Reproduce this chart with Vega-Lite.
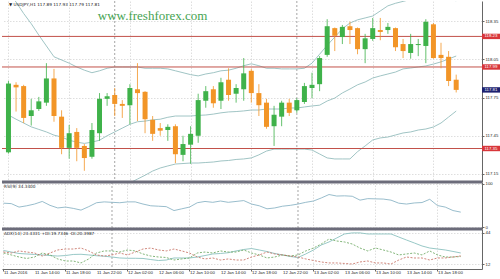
{
  "$schema": "https://vega.github.io/schema/vega-lite/v6.json",
  "padding": 0,
  "background": "white",
  "spacing": 0,
  "bounds": "flush",
  "config": {
    "view": {"stroke": null},
    "font": "Liberation Sans",
    "axis": {"labelFont": "Liberation Sans", "labelFontSize": 4.3, "labelColor": "#222222", "domainColor": "#666666", "tickColor": "#666666", "gridColor": "#d6d6d6", "gridDash": [1.5, 1.5], "gridWidth": 0.8}
  },
  "datasets": {
    "bars": [
      {"t": "2016-01-11T10:00:00Z", "o": 117.32, "h": 117.88, "l": 117.31, "c": 117.86, "ub": 118.57, "mb": 117.613, "lb": 116.66, "rsi": 55, "adx": 26.0, "pdi": 23.4, "mdi": 24.4},
      {"t": "2016-01-11T11:00:00Z", "o": 117.85, "h": 117.87, "l": 117.64, "c": 117.83, "ub": 118.50, "mb": 117.58, "lb": 116.66, "rsi": 54, "adx": 24.4, "pdi": 21.4, "mdi": 23.4},
      {"t": "2016-01-11T12:00:00Z", "o": 117.84, "h": 117.85, "l": 117.55, "c": 117.59, "ub": 118.41, "mb": 117.55, "lb": 116.69, "rsi": 46, "adx": 22.9, "pdi": 19.3, "mdi": 25.5},
      {"t": "2016-01-11T13:00:00Z", "o": 117.605, "h": 117.74, "l": 117.53, "c": 117.65, "ub": 118.33, "mb": 117.52, "lb": 116.71, "rsi": 49, "adx": 22.4, "pdi": 17.8, "mdi": 24.4},
      {"t": "2016-01-11T14:00:00Z", "o": 117.66, "h": 117.755, "l": 117.645, "c": 117.72, "ub": 118.24, "mb": 117.50, "lb": 116.76, "rsi": 53, "adx": 21.9, "pdi": 19.3, "mdi": 23.4},
      {"t": "2016-01-11T15:00:00Z", "o": 117.71, "h": 118.02, "l": 117.685, "c": 117.90, "ub": 118.155, "mb": 117.48, "lb": 116.805, "rsi": 59, "adx": 21.4, "pdi": 23.4, "mdi": 20.3},
      {"t": "2016-01-11T16:00:00Z", "o": 117.90, "h": 117.975, "l": 117.56, "c": 117.605, "ub": 118.07, "mb": 117.455, "lb": 116.84, "rsi": 50, "adx": 20.8, "pdi": 21.4, "mdi": 23.4},
      {"t": "2016-01-11T17:00:00Z", "o": 117.60, "h": 117.65, "l": 117.305, "c": 117.355, "ub": 118.045, "mb": 117.44, "lb": 116.835, "rsi": 44, "adx": 20.3, "pdi": 17.3, "mdi": 26.5},
      {"t": "2016-01-11T18:00:00Z", "o": 117.355, "h": 117.535, "l": 117.27, "c": 117.47, "ub": 118.02, "mb": 117.415, "lb": 116.81, "rsi": 46, "adx": 20.8, "pdi": 15.2, "mdi": 27.5},
      {"t": "2016-01-11T19:00:00Z", "o": 117.48, "h": 117.51, "l": 117.25, "c": 117.355, "ub": 117.99, "mb": 117.40, "lb": 116.81, "rsi": 43, "adx": 21.9, "pdi": 15.2, "mdi": 27.5},
      {"t": "2016-01-11T20:00:00Z", "o": 117.37, "h": 117.385, "l": 117.175, "c": 117.275, "ub": 117.965, "mb": 117.39, "lb": 116.815, "rsi": 39, "adx": 22.1, "pdi": 13.2, "mdi": 28.5},
      {"t": "2016-01-11T21:00:00Z", "o": 117.285, "h": 117.55, "l": 117.27, "c": 117.495, "ub": 117.945, "mb": 117.40, "lb": 116.855, "rsi": 47, "adx": 21.4, "pdi": 17.3, "mdi": 25.5},
      {"t": "2016-01-11T22:00:00Z", "o": 117.47, "h": 117.785, "l": 117.41, "c": 117.74, "ub": 117.96, "mb": 117.415, "lb": 116.87, "rsi": 56, "adx": 20.6, "pdi": 23.4, "mdi": 21.4},
      {"t": "2016-01-11T23:00:00Z", "o": 117.74, "h": 117.785, "l": 117.685, "c": 117.76, "ub": 117.98, "mb": 117.45, "lb": 116.92, "rsi": 58, "adx": 20.1, "pdi": 25.5, "mdi": 20.3},
      {"t": "2016-01-12T00:00:00Z", "o": 117.77, "h": 117.825, "l": 117.605, "c": 117.70, "ub": 117.99, "mb": 117.48, "lb": 116.97, "rsi": 57, "adx": 19.3, "pdi": 25.5, "mdi": 21.4},
      {"t": "2016-01-12T01:00:00Z", "o": 117.70, "h": 117.73, "l": 117.59, "c": 117.685, "ub": 117.99, "mb": 117.51, "lb": 117.03, "rsi": 56, "adx": 18.3, "pdi": 24.4, "mdi": 23.4},
      {"t": "2016-01-12T02:00:00Z", "o": 117.69, "h": 117.855, "l": 117.54, "c": 117.825, "ub": 117.99, "mb": 117.54, "lb": 117.08, "rsi": 58, "adx": 18.0, "pdi": 26.5, "mdi": 21.4},
      {"t": "2016-01-12T03:00:00Z", "o": 117.815, "h": 118.02, "l": 117.565, "c": 117.785, "ub": 117.99, "mb": 117.56, "lb": 117.11, "rsi": 58, "adx": 18.0, "pdi": 25.5, "mdi": 24.4},
      {"t": "2016-01-12T04:00:00Z", "o": 117.795, "h": 117.80, "l": 117.47, "c": 117.58, "ub": 117.98, "mb": 117.565, "lb": 117.14, "rsi": 53, "adx": 17.8, "pdi": 22.4, "mdi": 27.5},
      {"t": "2016-01-12T05:00:00Z", "o": 117.575, "h": 117.605, "l": 117.41, "c": 117.465, "ub": 117.98, "mb": 117.575, "lb": 117.173, "rsi": 49, "adx": 16.7, "pdi": 20.3, "mdi": 28.5},
      {"t": "2016-01-12T06:00:00Z", "o": 117.51, "h": 117.55, "l": 117.45, "c": 117.49, "ub": 117.98, "mb": 117.58, "lb": 117.197, "rsi": 48, "adx": 15.7, "pdi": 19.3, "mdi": 26.5},
      {"t": "2016-01-12T07:00:00Z", "o": 117.495, "h": 117.54, "l": 117.41, "c": 117.52, "ub": 117.975, "mb": 117.595, "lb": 117.213, "rsi": 47, "adx": 16.2, "pdi": 18.8, "mdi": 25.5},
      {"t": "2016-01-12T08:00:00Z", "o": 117.525, "h": 117.54, "l": 117.235, "c": 117.305, "ub": 117.96, "mb": 117.605, "lb": 117.228, "rsi": 38, "adx": 18.3, "pdi": 16.2, "mdi": 27.5},
      {"t": "2016-01-12T09:00:00Z", "o": 117.30, "h": 117.45, "l": 117.25, "c": 117.385, "ub": 117.945, "mb": 117.605, "lb": 117.232, "rsi": 42, "adx": 18.3, "pdi": 17.3, "mdi": 25.5},
      {"t": "2016-01-12T10:00:00Z", "o": 117.38, "h": 117.525, "l": 117.23, "c": 117.465, "ub": 117.93, "mb": 117.605, "lb": 117.236, "rsi": 46, "adx": 18.3, "pdi": 18.3, "mdi": 23.4},
      {"t": "2016-01-12T11:00:00Z", "o": 117.45, "h": 117.78, "l": 117.395, "c": 117.73, "ub": 117.92, "mb": 117.61, "lb": 117.236, "rsi": 56, "adx": 19.3, "pdi": 23.4, "mdi": 19.3},
      {"t": "2016-01-12T12:00:00Z", "o": 117.725, "h": 117.84, "l": 117.67, "c": 117.80, "ub": 117.935, "mb": 117.613, "lb": 117.24, "rsi": 59, "adx": 20.8, "pdi": 24.4, "mdi": 17.3},
      {"t": "2016-01-12T13:00:00Z", "o": 117.815, "h": 117.84, "l": 117.67, "c": 117.705, "ub": 117.945, "mb": 117.62, "lb": 117.244, "rsi": 57, "adx": 22.4, "pdi": 23.4, "mdi": 18.3},
      {"t": "2016-01-12T14:00:00Z", "o": 117.725, "h": 117.905, "l": 117.66, "c": 117.87, "ub": 117.96, "mb": 117.63, "lb": 117.252, "rsi": 60, "adx": 22.9, "pdi": 25.5, "mdi": 16.2},
      {"t": "2016-01-12T15:00:00Z", "o": 117.89, "h": 117.98, "l": 117.725, "c": 117.77, "ub": 117.965, "mb": 117.637, "lb": 117.256, "rsi": 57, "adx": 23.7, "pdi": 24.4, "mdi": 17.3},
      {"t": "2016-01-12T16:00:00Z", "o": 117.78, "h": 117.855, "l": 117.71, "c": 117.825, "ub": 117.98, "mb": 117.64, "lb": 117.264, "rsi": 59, "adx": 25.5, "pdi": 24.4, "mdi": 16.2},
      {"t": "2016-01-12T17:00:00Z", "o": 117.815, "h": 118.06, "l": 117.725, "c": 117.94, "ub": 118.00, "mb": 117.645, "lb": 117.268, "rsi": 61, "adx": 27.0, "pdi": 26.5, "mdi": 16.2},
      {"t": "2016-01-12T18:00:00Z", "o": 117.96, "h": 117.975, "l": 117.71, "c": 117.785, "ub": 118.015, "mb": 117.652, "lb": 117.276, "rsi": 53, "adx": 28.0, "pdi": 23.4, "mdi": 19.3},
      {"t": "2016-01-12T19:00:00Z", "o": 117.785, "h": 117.855, "l": 117.605, "c": 117.69, "ub": 118.00, "mb": 117.652, "lb": 117.30, "rsi": 49, "adx": 26.5, "pdi": 21.4, "mdi": 21.4},
      {"t": "2016-01-12T20:00:00Z", "o": 117.71, "h": 117.74, "l": 117.505, "c": 117.52, "ub": 117.98, "mb": 117.66, "lb": 117.33, "rsi": 42, "adx": 24.9, "pdi": 18.3, "mdi": 24.4},
      {"t": "2016-01-12T21:00:00Z", "o": 117.525, "h": 117.685, "l": 117.37, "c": 117.615, "ub": 117.98, "mb": 117.66, "lb": 117.345, "rsi": 44, "adx": 22.9, "pdi": 19.3, "mdi": 22.4},
      {"t": "2016-01-12T22:00:00Z", "o": 117.60, "h": 117.725, "l": 117.525, "c": 117.71, "ub": 117.975, "mb": 117.66, "lb": 117.345, "rsi": 48, "adx": 21.4, "pdi": 21.4, "mdi": 21.4},
      {"t": "2016-01-12T23:00:00Z", "o": 117.71, "h": 117.74, "l": 117.605, "c": 117.63, "ub": 117.975, "mb": 117.668, "lb": 117.345, "rsi": 50, "adx": 19.8, "pdi": 20.3, "mdi": 20.3},
      {"t": "2016-01-13T00:00:00Z", "o": 117.65, "h": 117.745, "l": 117.63, "c": 117.73, "ub": 117.975, "mb": 117.668, "lb": 117.345, "rsi": 53, "adx": 18.8, "pdi": 21.4, "mdi": 19.3},
      {"t": "2016-01-13T01:00:00Z", "o": 117.715, "h": 117.865, "l": 117.70, "c": 117.84, "ub": 117.98, "mb": 117.676, "lb": 117.345, "rsi": 57, "adx": 22.4, "pdi": 25.5, "mdi": 17.3},
      {"t": "2016-01-13T02:00:00Z", "o": 117.825, "h": 117.945, "l": 117.745, "c": 117.85, "ub": 118.02, "mb": 117.684, "lb": 117.338, "rsi": 60, "adx": 26.5, "pdi": 28.5, "mdi": 15.7},
      {"t": "2016-01-13T03:00:00Z", "o": 117.855, "h": 118.075, "l": 117.80, "c": 118.06, "ub": 118.09, "mb": 117.69, "lb": 117.307, "rsi": 67, "adx": 31.6, "pdi": 32.6, "mdi": 14.2},
      {"t": "2016-01-13T04:00:00Z", "o": 118.085, "h": 118.365, "l": 118.07, "c": 118.31, "ub": 118.16, "mb": 117.723, "lb": 117.276, "rsi": 75, "adx": 34.7, "pdi": 37.7, "mdi": 13.2},
      {"t": "2016-01-13T05:00:00Z", "o": 118.295, "h": 118.30, "l": 118.115, "c": 118.235, "ub": 118.225, "mb": 117.746, "lb": 117.268, "rsi": 71.5, "adx": 38.8, "pdi": 35.7, "mdi": 13.2},
      {"t": "2016-01-13T06:00:00Z", "o": 118.225, "h": 118.32, "l": 118.17, "c": 118.305, "ub": 118.29, "mb": 117.786, "lb": 117.268, "rsi": 72, "adx": 42.9, "pdi": 34.7, "mdi": 12.7},
      {"t": "2016-01-13T07:00:00Z", "o": 118.31, "h": 118.345, "l": 118.17, "c": 118.28, "ub": 118.335, "mb": 117.817, "lb": 117.268, "rsi": 71, "adx": 44.0, "pdi": 32.6, "mdi": 12.1},
      {"t": "2016-01-13T08:00:00Z", "o": 118.295, "h": 118.30, "l": 118.09, "c": 118.13, "ub": 118.36, "mb": 117.85, "lb": 117.325, "rsi": 62, "adx": 44.0, "pdi": 28.5, "mdi": 14.2},
      {"t": "2016-01-13T09:00:00Z", "o": 118.13, "h": 118.25, "l": 118.02, "c": 118.215, "ub": 118.375, "mb": 117.872, "lb": 117.37, "rsi": 65.5, "adx": 42.9, "pdi": 25.5, "mdi": 15.2},
      {"t": "2016-01-13T10:00:00Z", "o": 118.21, "h": 118.375, "l": 118.195, "c": 118.295, "ub": 118.39, "mb": 117.903, "lb": 117.417, "rsi": 65, "adx": 42.9, "pdi": 28.5, "mdi": 13.2},
      {"t": "2016-01-13T11:00:00Z", "o": 118.28, "h": 118.375, "l": 118.20, "c": 118.265, "ub": 118.43, "mb": 117.92, "lb": 117.433, "rsi": 64.5, "adx": 42.9, "pdi": 26.5, "mdi": 13.2},
      {"t": "2016-01-13T12:00:00Z", "o": 118.28, "h": 118.335, "l": 118.25, "c": 118.305, "ub": 118.47, "mb": 117.935, "lb": 117.44, "rsi": 62, "adx": 42.9, "pdi": 24.4, "mdi": 12.1},
      {"t": "2016-01-13T13:00:00Z", "o": 118.295, "h": 118.30, "l": 118.115, "c": 118.145, "ub": 118.49, "mb": 117.95, "lb": 117.456, "rsi": 55, "adx": 39.8, "pdi": 21.4, "mdi": 16.2},
      {"t": "2016-01-13T14:00:00Z", "o": 118.17, "h": 118.21, "l": 118.06, "c": 118.115, "ub": 118.505, "mb": 117.975, "lb": 117.472, "rsi": 53, "adx": 36.7, "pdi": 22.4, "mdi": 19.3},
      {"t": "2016-01-13T15:00:00Z", "o": 118.10, "h": 118.25, "l": 118.055, "c": 118.17, "ub": 118.52, "mb": 117.982, "lb": 117.48, "rsi": 55.5, "adx": 33.7, "pdi": 23.4, "mdi": 18.3},
      {"t": "2016-01-13T16:00:00Z", "o": 118.162, "h": 118.21, "l": 118.075, "c": 118.17, "ub": 118.52, "mb": 117.99, "lb": 117.495, "rsi": 56.5, "adx": 30.6, "pdi": 21.4, "mdi": 18.3},
      {"t": "2016-01-13T17:00:00Z", "o": 118.155, "h": 118.365, "l": 118.02, "c": 118.345, "ub": 118.52, "mb": 117.998, "lb": 117.503, "rsi": 64, "adx": 28.5, "pdi": 25.5, "mdi": 16.2},
      {"t": "2016-01-13T18:00:00Z", "o": 118.325, "h": 118.335, "l": 118.055, "c": 118.06, "ub": 118.52, "mb": 118.013, "lb": 117.519, "rsi": 49.5, "adx": 27.5, "pdi": 21.4, "mdi": 18.3},
      {"t": "2016-01-13T19:00:00Z", "o": 118.085, "h": 118.18, "l": 117.98, "c": 118.06, "ub": 118.52, "mb": 118.03, "lb": 117.55, "rsi": 46, "adx": 26.5, "pdi": 19.3, "mdi": 18.3},
      {"t": "2016-01-13T20:00:00Z", "o": 118.07, "h": 118.115, "l": 117.84, "c": 117.88, "ub": 118.52, "mb": 118.053, "lb": 117.597, "rsi": 38, "adx": 25.0, "pdi": 19.3, "mdi": 19.3},
      {"t": "2016-01-13T21:00:00Z", "o": 117.89, "h": 117.93, "l": 117.79, "c": 117.81, "ub": 118.51, "mb": 118.076, "lb": 117.644, "rsi": 34.34, "adx": 23.43, "pdi": 19.73, "mdi": 20.40}
    ],
    "seps": [{"t": "2016-01-12T00:00:00Z"}, {"t": "2016-01-13T00:00:00Z"}],
    "levels": [{"p": 118.23}, {"p": 117.99}, {"p": 117.35}],
    "badges": [{"p": 118.23, "kind": "level"}, {"p": 117.99, "kind": "level"}, {"p": 117.35, "kind": "level"}, {"p": 117.81, "kind": "bid"}],
    "notes": [{"label": "www.freshforex.com"}],
    "head": [{"label": "▼ USDJPY,H1  117.89 117.93 117.79 117.81"}],
    "rsihead": [{"label": "RSI(9) 34.3400"}],
    "adxhead": [{"label": "ADX(14) 23.4331 +DI:19.7346 -DI:20.3987"}],
    "xlabels": [
      {"t": "2016-01-11T10:00:00Z", "label": "11 Jan 2016"},
      {"t": "2016-01-11T14:00:00Z", "label": "11 Jan 14:00"},
      {"t": "2016-01-11T18:00:00Z", "label": "11 Jan 18:00"},
      {"t": "2016-01-11T22:00:00Z", "label": "11 Jan 22:00"},
      {"t": "2016-01-12T02:00:00Z", "label": "12 Jan 02:00"},
      {"t": "2016-01-12T06:00:00Z", "label": "12 Jan 06:00"},
      {"t": "2016-01-12T10:00:00Z", "label": "12 Jan 10:00"},
      {"t": "2016-01-12T14:00:00Z", "label": "12 Jan 14:00"},
      {"t": "2016-01-12T18:00:00Z", "label": "12 Jan 18:00"},
      {"t": "2016-01-12T22:00:00Z", "label": "12 Jan 22:00"},
      {"t": "2016-01-13T02:00:00Z", "label": "13 Jan 02:00"},
      {"t": "2016-01-13T06:00:00Z", "label": "13 Jan 06:00"},
      {"t": "2016-01-13T10:00:00Z", "label": "13 Jan 10:00"},
      {"t": "2016-01-13T14:00:00Z", "label": "13 Jan 14:00"},
      {"t": "2016-01-13T18:00:00Z", "label": "13 Jan 18:00"}
    ]
  },
  "vconcat": [
    {
      "width": 480,
      "height": 181,
      "layer": [
        {
          "data": {"name": "seps"},
          "mark": {"type": "rule", "color": "#8f8f8f", "strokeDash": [2, 2], "strokeWidth": 0.8},
          "encoding": {
            "x": {"field": "t", "type": "temporal", "scale": {"type": "utc", "domain": [1452505703400, 1452728671200]},
                  "axis": {"title": null, "values": [1452506400000, 1452520800000, 1452535200000, 1452549600000, 1452564000000, 1452578400000, 1452592800000, 1452607200000, 1452621600000, 1452636000000, 1452650400000, 1452664800000, 1452679200000, 1452693600000, 1452708000000], "labels": false, "ticks": false, "domain": false, "grid": true}}
          }
        },
        {
          "data": {"name": "bars"},
          "transform": [{"fold": ["ub", "mb", "lb"], "as": ["band", "value"]}],
          "mark": {"type": "line", "clip": true, "color": "#95bdbd", "strokeWidth": 0.9},
          "encoding": {
            "x": {"field": "t", "type": "temporal", "scale": {"type": "utc", "domain": [1452505703400, 1452728671200]}},
            "y": {"field": "value", "type": "quantitative", "scale": {"domain": [117.087, 118.508], "nice": false, "zero": false},
                  "axis": {"orient": "right", "title": null, "values": [118.5, 118.35, 118.2, 118.05, 117.9, 117.75, 117.6, 117.45, 117.3, 117.15], "format": ".2f", "grid": true, "tickSize": 2, "labelPadding": 1}},
            "detail": {"field": "band"}
          }
        },
        {
          "data": {"name": "levels"},
          "mark": {"type": "rule", "color": "#c2514a", "strokeWidth": 1},
          "encoding": {
            "y": {"field": "p", "type": "quantitative", "scale": {"domain": [117.087, 118.508], "nice": false, "zero": false}}
          }
        },
        {
          "data": {"name": "bars"},
          "mark": {"type": "rule", "strokeWidth": 1, "opacity": 0.8},
          "encoding": {
            "x": {"field": "t", "type": "temporal", "scale": {"type": "utc", "domain": [1452505703400, 1452728671200]}},
            "y": {"field": "l", "type": "quantitative", "scale": {"domain": [117.087, 118.508], "nice": false, "zero": false}},
            "y2": {"field": "h"},
            "color": {"condition": {"test": "datum.c < datum.o", "value": "#f29527"}, "value": "#3fb24a"}
          }
        },
        {
          "data": {"name": "bars"},
          "mark": {"type": "bar", "width": 5},
          "encoding": {
            "x": {"field": "t", "type": "temporal", "scale": {"type": "utc", "domain": [1452505703400, 1452728671200]}},
            "y": {"field": "o", "type": "quantitative", "scale": {"domain": [117.087, 118.508], "nice": false, "zero": false}},
            "y2": {"field": "c"},
            "color": {"condition": {"test": "datum.c < datum.o", "value": "#f29527"}, "value": "#3fb24a"}
          }
        },
        {
          "data": {"name": "notes"},
          "mark": {"type": "text", "font": "Liberation Serif", "fontSize": 13, "color": "#46a352", "align": "center", "baseline": "middle"},
          "encoding": {
            "text": {"field": "label"},
            "x": {"datum": {"year": 2016, "month": 1, "date": 12, "hours": 5, "minutes": 0, "utc": true}, "type": "temporal", "scale": {"type": "utc", "domain": [1452505703400, 1452728671200]}},
            "y": {"datum": 118.39, "type": "quantitative", "scale": {"domain": [117.087, 118.508], "nice": false, "zero": false}}
          }
        },
        {
          "data": {"name": "head"},
          "mark": {"type": "text", "font": "DejaVu Sans", "fontSize": 4.2, "color": "#222222", "align": "left", "baseline": "top", "dx": 2, "dy": 1.5},
          "encoding": {
            "text": {"field": "label"},
            "x": {"datum": 1452505703400, "type": "temporal", "scale": {"type": "utc", "domain": [1452505703400, 1452728671200]}},
            "y": {"datum": 118.508, "type": "quantitative", "scale": {"domain": [117.087, 118.508], "nice": false, "zero": false}}
          }
        },
        {
          "data": {"name": "badges"},
          "mark": {"type": "point", "shape": "M0,-0.27H2V0.27H0Z", "filled": true, "size": 400, "strokeWidth": 0, "opacity": 1},
          "encoding": {
            "x": {"value": "width"},
            "y": {"field": "p", "type": "quantitative", "scale": {"domain": [117.087, 118.508], "nice": false, "zero": false}},
            "color": {"condition": {"test": "datum.kind == 'bid'", "value": "#1d2170"}, "value": "#d8363a"}
          }
        },
        {
          "data": {"name": "badges"},
          "mark": {"type": "text", "align": "left", "baseline": "middle", "dx": 2.5, "fontSize": 4.3, "color": "white"},
          "encoding": {
            "x": {"value": "width"},
            "y": {"field": "p", "type": "quantitative", "scale": {"domain": [117.087, 118.508], "nice": false, "zero": false}},
            "text": {"field": "p", "format": ".2f"}
          }
        }
      ]
    },
    {
      "width": 480,
      "height": 47,
      "layer": [
        {
          "data": {"name": "seps"},
          "mark": {"type": "rule", "color": "#8f8f8f", "strokeDash": [2, 2], "strokeWidth": 0.8},
          "encoding": {
            "x": {"field": "t", "type": "temporal", "scale": {"type": "utc", "domain": [1452505703400, 1452728671200]},
                  "axis": {"title": null, "values": [1452506400000, 1452520800000, 1452535200000, 1452549600000, 1452564000000, 1452578400000, 1452592800000, 1452607200000, 1452621600000, 1452636000000, 1452650400000, 1452664800000, 1452679200000, 1452693600000, 1452708000000], "labels": false, "ticks": false, "domain": false, "grid": true}}
          }
        },
        {
          "data": {"name": "bars"},
          "mark": {"type": "line", "color": "#8db6c6", "strokeWidth": 0.9},
          "encoding": {
            "x": {"field": "t", "type": "temporal", "scale": {"type": "utc", "domain": [1452505703400, 1452728671200]}},
            "y": {"field": "rsi", "type": "quantitative", "scale": {"domain": [-4.6, 103.9], "nice": false, "zero": false},
                  "axis": {"orient": "right", "title": null, "values": [100, 70, 30, 0], "grid": true, "tickSize": 2, "labelPadding": 1}}
          }
        },
        {
          "data": {"values": [{}]},
          "mark": {"type": "rule", "color": "#6c6c7a", "strokeWidth": 3},
          "encoding": {
            "y": {"datum": 103.9, "type": "quantitative", "scale": {"domain": [-4.6, 103.9], "nice": false, "zero": false}}
          }
        },
        {
          "data": {"name": "rsihead"},
          "mark": {"type": "text", "font": "DejaVu Sans", "fontSize": 4.2, "color": "#222222", "align": "left", "baseline": "top", "dx": 2, "dy": 3},
          "encoding": {
            "text": {"field": "label"},
            "x": {"datum": 1452505703400, "type": "temporal", "scale": {"type": "utc", "domain": [1452505703400, 1452728671200]}},
            "y": {"datum": 103.9, "type": "quantitative", "scale": {"domain": [-4.6, 103.9], "nice": false, "zero": false}}
          }
        }
      ]
    },
    {
      "width": 480,
      "height": 40,
      "layer": [
        {
          "data": {"name": "seps"},
          "mark": {"type": "rule", "color": "#8f8f8f", "strokeDash": [2, 2], "strokeWidth": 0.8},
          "encoding": {
            "x": {"field": "t", "type": "temporal", "scale": {"type": "utc", "domain": [1452505703400, 1452728671200]},
                  "axis": {"title": null, "orient": "bottom", "values": [1452506400000, 1452520800000, 1452535200000, 1452549600000, 1452564000000, 1452578400000, 1452592800000, 1452607200000, 1452621600000, 1452636000000, 1452650400000, 1452664800000, 1452679200000, 1452693600000, 1452708000000],
                           "labels": false, "tickSize": 2, "domain": true, "grid": true}}
          }
        },
        {
          "data": {"name": "bars"},
          "mark": {"type": "line", "color": "#8cc2c0", "strokeWidth": 0.9},
          "encoding": {
            "x": {"field": "t", "type": "temporal", "scale": {"type": "utc", "domain": [1452505703400, 1452728671200]}},
            "y": {"field": "adx", "type": "quantitative", "scale": {"domain": [7, 48], "nice": false, "zero": false},
                  "axis": {"orient": "right", "title": null, "values": [44, 33, 23, 12], "grid": true, "tickSize": 2, "labelPadding": 1}}
          }
        },
        {
          "data": {"name": "bars"},
          "mark": {"type": "line", "color": "#62a257", "strokeWidth": 0.8, "strokeDash": [2, 1.5]},
          "encoding": {
            "x": {"field": "t", "type": "temporal", "scale": {"type": "utc", "domain": [1452505703400, 1452728671200]}},
            "y": {"field": "pdi", "type": "quantitative", "scale": {"domain": [7, 48], "nice": false, "zero": false}}
          }
        },
        {
          "data": {"name": "bars"},
          "mark": {"type": "line", "color": "#c3685a", "strokeWidth": 0.8, "strokeDash": [2, 1.5]},
          "encoding": {
            "x": {"field": "t", "type": "temporal", "scale": {"type": "utc", "domain": [1452505703400, 1452728671200]}},
            "y": {"field": "mdi", "type": "quantitative", "scale": {"domain": [7, 48], "nice": false, "zero": false}}
          }
        },
        {
          "data": {"values": [{}]},
          "mark": {"type": "rule", "color": "#6c6c7a", "strokeWidth": 3},
          "encoding": {
            "y": {"datum": 48, "type": "quantitative", "scale": {"domain": [7, 48], "nice": false, "zero": false}}
          }
        },
        {
          "data": {"name": "adxhead"},
          "mark": {"type": "text", "font": "DejaVu Sans", "fontSize": 4.2, "color": "#222222", "align": "left", "baseline": "top", "dx": 2, "dy": 3},
          "encoding": {
            "text": {"field": "label"},
            "x": {"datum": 1452505703400, "type": "temporal", "scale": {"type": "utc", "domain": [1452505703400, 1452728671200]}},
            "y": {"datum": 48, "type": "quantitative", "scale": {"domain": [7, 48], "nice": false, "zero": false}}
          }
        },
        {
          "data": {"name": "xlabels"},
          "mark": {"type": "text", "font": "Liberation Sans", "fontSize": 4.3, "color": "#222222", "align": "left", "baseline": "top", "dx": 0.5, "dy": 1.5},
          "encoding": {
            "text": {"field": "label"},
            "x": {"field": "t", "type": "temporal", "scale": {"type": "utc", "domain": [1452505703400, 1452728671200]}},
            "y": {"datum": 7, "type": "quantitative", "scale": {"domain": [7, 48], "nice": false, "zero": false}}
          }
        }
      ]
    }
  ]
}
